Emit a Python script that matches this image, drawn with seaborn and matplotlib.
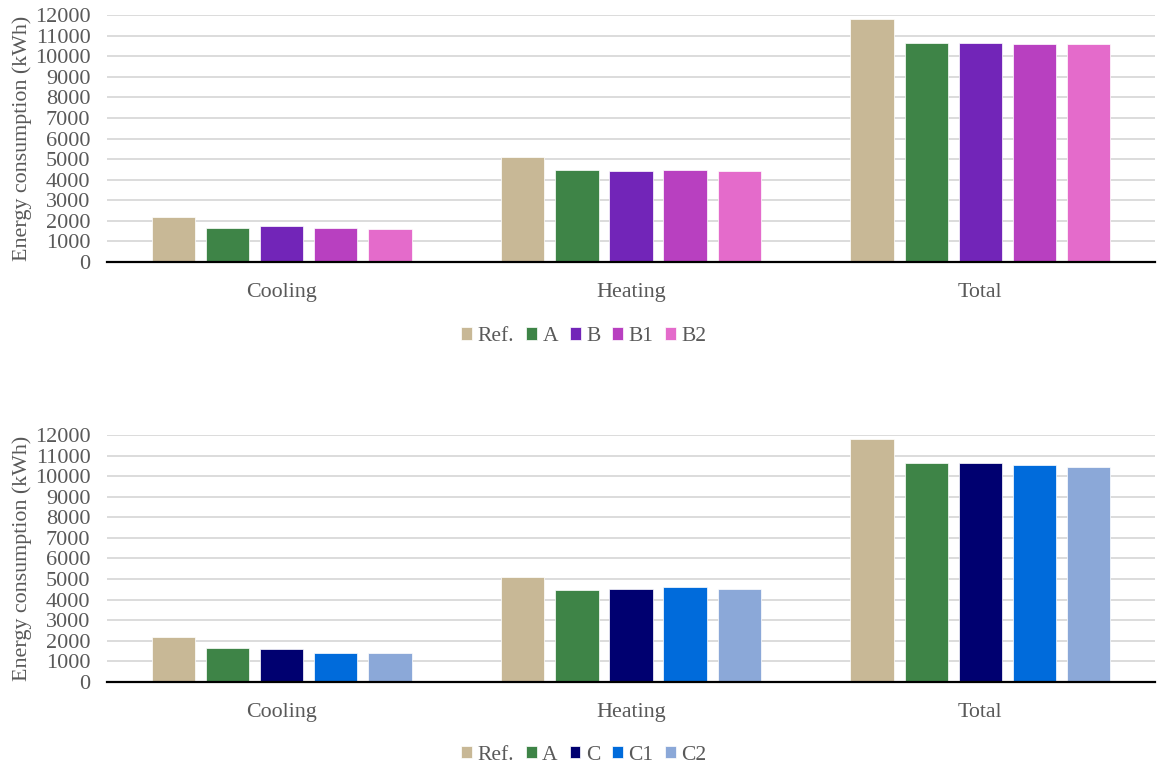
import matplotlib
matplotlib.use("Agg")
import matplotlib.pyplot as plt
import seaborn as sns
import pandas as pd

categories = ["Cooling", "Heating", "Total"]

# Upper panel: reference vs. A / B variants (kWh)
cases_b = ["Ref.", "A", "B", "B1", "B2"]
ref_vals = [2200, 5110, 11810]
a_vals = [1650, 4480, 10630]
b_vals = [1730, 4400, 10660]
b1_vals = [1630, 4470, 10600]
b2_vals = [1620, 4420, 10570]

# Lower panel: reference vs. A / C variants (kWh)
cases_c = ["Ref.", "A", "C", "C1", "C2"]
c_vals = [1600, 4510, 10630]
c1_vals = [1410, 4610, 10530]
c2_vals = [1410, 4510, 10440]

colors_b = ["#C8B896", "#3E8447", "#7225B8", "#B840C0", "#E46BCB"]
colors_c = ["#C8B896", "#3E8447", "#000070", "#006BDB", "#8BA8D8"]

yticks = list(range(0, 12001, 1000))


def long_frame(cases, series):
    rows = []
    for case, vals in zip(cases, series):
        for cat, v in zip(categories, vals):
            rows.append({"Category": cat, "Case": case, "Energy": v})
    return pd.DataFrame(rows)


df_b = long_frame(cases_b, [ref_vals, a_vals, b_vals, b1_vals, b2_vals])
df_c = long_frame(cases_c, [ref_vals, a_vals, c_vals, c1_vals, c2_vals])

sns.set_theme(style="white")
plt.rcParams["font.family"] = ["Liberation Serif", "DejaVu Serif"]
text_color = "#595959"

fig = plt.figure(figsize=(11.61, 7.65), dpi=100)
ax_top = fig.add_axes([0.0922, 0.6575, 0.9026, 0.3229])
ax_bot = fig.add_axes([0.0922, 0.1085, 0.9026, 0.3229])

for ax, df, cases, colors, leg_y in [
    (ax_top, df_b, cases_b, colors_b, 0.560),
    (ax_bot, df_c, cases_c, colors_c, 0.013),
]:
    sns.barplot(data=df, x="Category", y="Energy", hue="Case",
                hue_order=cases, palette=colors, order=categories,
                saturation=1, width=0.775, gap=0.2,
                edgecolor="#FFFFFF", linewidth=0.5, ax=ax, zorder=3)
    ax.set_ylim(0, 12000)
    ax.set_xlim(-0.5, 2.5)
    ax.set_yticks(yticks)
    ax.set_yticklabels([str(t) for t in yticks])
    ax.yaxis.grid(True, color="#D9D9D9", linewidth=1.3, zorder=0)
    ax.xaxis.grid(False)
    for side in ["top", "right", "left"]:
        ax.spines[side].set_visible(False)
    ax.spines["bottom"].set_color("black")
    ax.spines["bottom"].set_linewidth(1.6)
    ax.spines["bottom"].set_zorder(5)
    ax.tick_params(axis="y", length=0, pad=12, labelsize=16, labelcolor=text_color)
    ax.tick_params(axis="x", length=0, pad=15, labelsize=15.8, labelcolor=text_color)
    ax.set_xlabel("")
    ax.set_ylabel("Energy consumption (kWh)", fontsize=15.8, color=text_color, labelpad=2)
    handles, labels = ax.get_legend_handles_labels()
    ax.get_legend().remove()
    fig.legend(handles, labels, loc="center", bbox_to_anchor=(0.503, leg_y),
               ncol=5, frameon=False, fontsize=15.5, labelcolor=text_color,
               handlelength=0.5, handleheight=0.5, handletextpad=0.25,
               columnspacing=0.56)

fig.savefig("out.png", dpi=100)
